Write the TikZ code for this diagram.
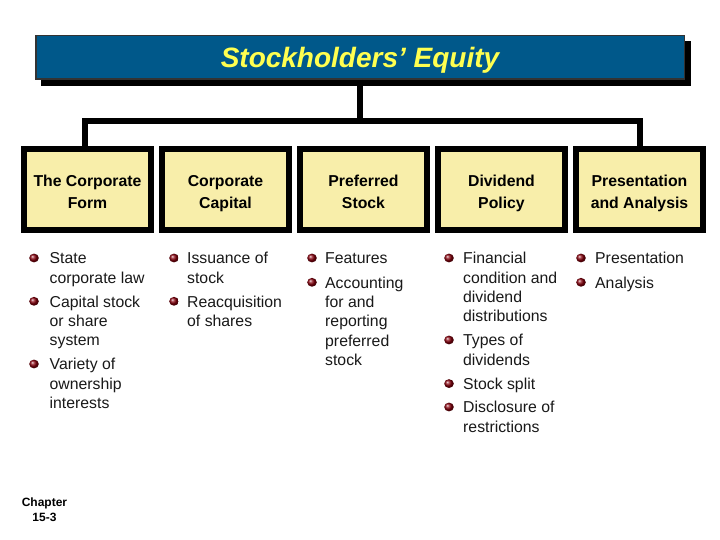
\documentclass[tikz,border=0pt]{standalone}
\usepackage{fontspec}
\setmainfont{Liberation Sans}
\definecolor{titleblue}{RGB}{0,88,138}
\definecolor{boxyellow}{RGB}{248,238,170}
\definecolor{titleyellow}{RGB}{255,255,80}
\definecolor{bulletred}{RGB}{135,0,12}
\tikzset{
  titlebox/.style={draw=black!80, line width=1.5pt, fill=titleblue,
    minimum width=648.5, minimum height=43.5, inner sep=0pt,
    text height=20pt, text depth=0pt,
    text=titleyellow, font=\bfseries\itshape\fontsize{28}{32}\selectfont},
  catbox/.style={draw=black, line width=6pt, fill=boxyellow,
    minimum width=127, minimum height=81, inner sep=0pt, align=center,
    font=\bfseries\fontsize{15.8}{22}\selectfont},
  itemtext/.style={inner sep=0pt, align=left, anchor=north west, text=black!90,
    font=\fontsize{15.8}{19.3}\selectfont},
  conn/.style={line width=6pt, draw=black},
  chapter/.style={inner sep=0pt, align=center, font=\bfseries\fontsize{12}{15}\selectfont}
}
\newcommand{\bitem}[5]{% name, ball x, text x, first line y, text
  \shade[ball color=bulletred] (#2,#4) ellipse (4.8 and 4.4);
  \node[itemtext] (#1) at (#3,#4-7.85) {\strut #5};}
\newcommand{\hdr}[2]{\rule{0pt}{23pt}#1\\#2\strut}
\begin{document}
\begin{tikzpicture}[x=1pt,y=-1pt]
\useasboundingbox (0,0) rectangle (720,540);
\fill[white] (0,0) rectangle (720,540);
% title
\fill[black] (41,41) rectangle (691,86);
\node[titlebox] (title) at (360,57.5) {Stockholders’ Equity};
% category boxes
\node[catbox] (b1) at (87.5,189.5) {\hdr{The Corporate}{Form}};
\node[catbox] (b2) at (225.5,189.5) {\hdr{Corporate}{Capital}};
\node[catbox] (b3) at (363.5,189.5) {\hdr{Preferred}{Stock}};
\node[catbox] (b4) at (501.5,189.5) {\hdr{Dividend}{Policy}};
\node[catbox] (b5) at (639.5,189.5) {\hdr{Presentation}{and Analysis}};
% connectors
\coordinate (hub) at (360,121);
\coordinate (lefttop) at (84.5,121);
\coordinate (righttop) at (640,121);
\draw[conn] (title.south) -- (hub);
\draw[conn, line join=miter] ([xshift=-3]b1.north) |- (lefttop) -- (righttop) -- (b5.north -| righttop);
% column 1
\bitem{c1a}{34}{49.5}{258}{State\\corporate law}
\bitem{c1b}{34}{49.5}{301.3}{Capital stock\\or share\\system}
\bitem{c1c}{34}{49.5}{364}{Variety of\\ownership\\interests}
% column 2
\bitem{c2a}{174}{187}{258}{Issuance of\\stock}
\bitem{c2b}{174}{187}{301.3}{Reacquisition\\of shares}
% column 3
\bitem{c3a}{312}{325}{258}{Features}
\bitem{c3b}{312}{325}{282.3}{Accounting\\for and\\reporting\\preferred\\stock}
% column 4
\bitem{c4a}{449}{463}{258}{Financial\\condition and\\dividend\\distributions}
\bitem{c4b}{449}{463}{340}{Types of\\dividends}
\bitem{c4c}{449}{463}{383.6}{Stock split}
\bitem{c4d}{449}{463}{407}{Disclosure of\\restrictions}
% column 5
\bitem{c5a}{581}{595}{258}{Presentation}
\bitem{c5b}{581}{595}{282.3}{Analysis}
% chapter
\node[chapter] (chap) at (44.5,510) {Chapter\\15-3};
\end{tikzpicture}
\end{document}
